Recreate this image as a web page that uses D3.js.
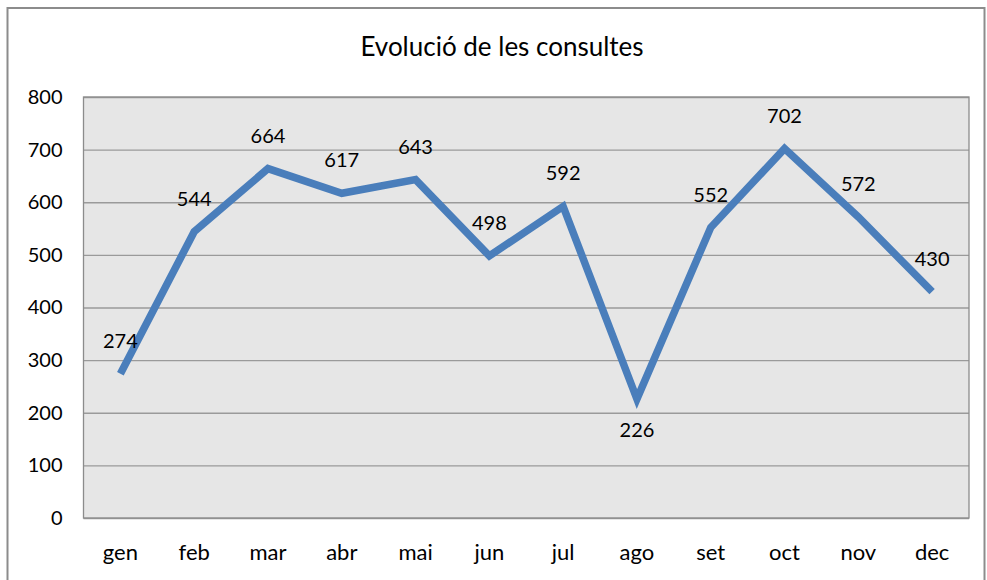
<!DOCTYPE html>
<html><head><meta charset="utf-8">
<script src="https://cdn.jsdelivr.net/npm/d3@7"></script>
<style>body{margin:0;background:#fff}svg{display:block}text{font-family:Lato,"Open Sans",sans-serif;fill:#000}</style>
</head><body>
<svg id="c" width="987" height="580"></svg>
<script>
const title = "Evolució de les consultes";
const months = ["gen","feb","mar","abr","mai","jun","jul","ago","set","oct","nov","dec"];
const values = [274,544,664,617,643,498,592,226,552,702,572,430];
const yTicks = [0,100,200,300,400,500,600,700,800];
const labelBelow = ["ago"];

const svg = d3.select("#c");
const m = {left:83.5, right:969, top:97, bottom:518};

svg.append("rect").attr("x",7.5).attr("y",8).attr("width",977).attr("height",580)
  .attr("fill","#fff").attr("stroke","#8c8c8c").attr("stroke-width",2);

const x = d3.scaleBand().domain(months).range([m.left,m.right]);
const y = d3.scaleLinear().domain([0,800]).range([m.bottom,m.top]);

svg.append("rect").attr("x",m.left).attr("y",m.top).attr("width",m.right-m.left).attr("height",m.bottom-m.top)
  .attr("fill","#e6e6e6");

const ya = svg.append("g").attr("transform",`translate(${m.left},0)`)
  .call(d3.axisLeft(y).tickValues(yTicks).tickSize(-(m.right-m.left)).tickPadding(21));
ya.select(".domain").remove();
ya.selectAll(".tick line").attr("stroke","#9a9a9a").attr("stroke-width",1.3);
ya.selectAll(".tick text").attr("font-size",20).attr("fill","#000");

svg.append("rect").attr("x",m.left).attr("y",m.top).attr("width",m.right-m.left).attr("height",m.bottom-m.top)
  .attr("fill","none").attr("stroke","#8c8c8c").attr("stroke-width",1.3);

const xa = svg.append("g").attr("transform",`translate(0,${m.bottom})`)
  .call(d3.axisBottom(x).tickSize(0).tickPadding(26));
xa.select(".domain").remove();
xa.selectAll(".tick text").attr("font-size",22).attr("fill","#000");

const line = d3.line().x((d,i)=>x(months[i])+x.bandwidth()/2).y(d=>y(d));
svg.append("path").datum(values).attr("d",line).attr("fill","none")
  .attr("stroke","#4a7ebb").attr("stroke-width",7.5).attr("stroke-linejoin","miter");

svg.selectAll(".lbl").data(values).enter().append("text")
  .attr("x",(d,i)=>x(months[i])+x.bandwidth()/2)
  .attr("y",(d,i)=> labelBelow.includes(months[i]) ? y(d)+38 : y(d)-26)
  .attr("text-anchor","middle").attr("font-size",20).text(d=>d);

svg.append("text").attr("x",502).attr("y",56).attr("text-anchor","middle")
  .attr("font-size",26).text(title);
</script>
</body></html>
